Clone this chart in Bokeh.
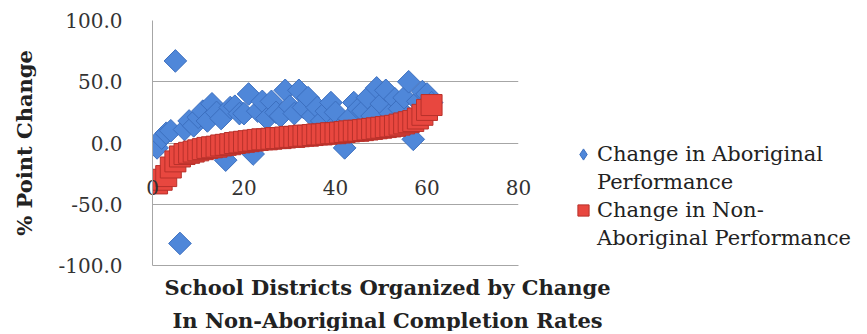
from bokeh.plotting import figure
from bokeh.models import Range1d, NumeralTickFormatter, FixedTicker, Legend, LegendItem, Title
from bokeh.embed import file_html
from bokeh.resources import INLINE
import math

districts = list(range(1, 62))
non_aboriginal = [-33, -30, -27, -20, -15, -11, -9, -8, -7, -6,
                  -5, -4, -3.5, -3, -2, -1.5, -1, 0, 0.5, 1,
                  1.5, 2, 2.5, 3, 3, 3.5, 4, 4, 4.5, 5,
                  5, 5.5, 6, 6, 6.5, 7, 7, 7.5, 8, 8,
                  8.5, 9, 9.5, 10, 10, 10.5, 11, 11.5, 12, 12.5,
                  13, 13.5, 14, 15, 16, 17, 18, 20, 23, 27, 31]
aboriginal = [-4, 4, 8, 10, 67, -82, 11, 18, 14, 21,
              26, 18, 32, 25, 20, -14, 29, 30, 24, 24,
              40, -9, 26, 34, 20, 34, 25, 22, 43, 30,
              24, 43, 29, 37, 22, 29, 18, 26, 33, 25,
              12, -4, 20, 33, 28, 26, 37, 22, 45, 32,
              43, 24, 36, 28, 37, 50, 3, 34, 42, 40, 33]
y_ticks = [-100, -50, 0, 50, 100]
x_ticks = [0, 20, 40, 60, 80]
title_lines = ["School Districts Organized by Change", "In Non-Aboriginal Completion Rates"]
legend_lines = [("Change in Aboriginal", "Performance"),
                ("Change in Non-", "Aboriginal Performance")]

FONT = "DejaVu Serif"
GRID = "#A6A6A6"
BLUE = "#4F87D9"
BLUE_EDGE = "#3C6FBF"
RED = "#E8473F"
RED_EDGE = "#B8312B"

p = figure(frame_width=366, frame_height=245, output_backend="svg", toolbar_location=None,
           x_range=Range1d(0, 80), y_range=Range1d(-100, 100),
           min_border_left=152, min_border_right=0,
           min_border_top=20, min_border_bottom=0)
p.outline_line_color = None
p.background_fill_color = "white"
p.border_fill_color = "white"

blue = p.scatter(districts, aboriginal, marker="square", angle=math.pi / 4, size=16,
                 fill_color=BLUE, line_color=BLUE_EDGE, line_width=1)
red = p.scatter(districts, non_aboriginal, marker="square", size=21,
                fill_color=RED, line_color=RED_EDGE, line_width=1)
# legend-only key (hidden in the plot, drawn in the legend)
blue_key = p.scatter(districts, aboriginal, marker="diamond", fill_color=BLUE,
                     line_color=BLUE_EDGE, visible=False)
blank = p.scatter(districts, aboriginal, marker="square", fill_alpha=0, line_alpha=0,
                  visible=False)

p.xgrid.grid_line_color = None
p.ygrid.ticker = FixedTicker(ticks=y_ticks)
p.ygrid.grid_line_color = GRID

p.yaxis.ticker = FixedTicker(ticks=y_ticks)
p.yaxis.formatter = NumeralTickFormatter(format="0.0")
p.yaxis.major_tick_line_color = None
p.yaxis.minor_tick_line_color = None
p.yaxis.axis_line_color = GRID
p.yaxis.major_label_standoff = 24
p.yaxis.major_label_text_font = FONT
p.yaxis.major_label_text_font_size = "20px"
p.yaxis.major_label_text_color = "#333333"
p.yaxis.axis_label = "% Point Change"
p.yaxis.axis_label_text_font = FONT
p.yaxis.axis_label_text_font_style = "bold"
p.yaxis.axis_label_text_font_size = "21px"
p.yaxis.axis_label_text_color = "#222222"
p.yaxis.axis_label_standoff = 18

p.xaxis.ticker = FixedTicker(ticks=x_ticks)
p.xaxis.major_tick_line_color = None
p.xaxis.minor_tick_line_color = None
p.xaxis.axis_line_color = GRID
p.xaxis.major_label_standoff = -92
p.xaxis.major_label_text_font = FONT
p.xaxis.major_label_text_font_size = "20px"
p.xaxis.major_label_text_color = "#333333"

for line, off, so in zip(title_lines, [12, 20], [14, -2]):
    p.add_layout(Title(text=line, align="left", offset=off, standoff=so,
                       text_font=FONT, text_font_style="bold", text_font_size="21px",
                       text_color="#222222"), "below")

items = [LegendItem(label=legend_lines[0][0], renderers=[blue_key]),
         LegendItem(label=legend_lines[0][1], renderers=[blank]),
         LegendItem(label=legend_lines[1][0], renderers=[red]),
         LegendItem(label=legend_lines[1][1], renderers=[blank])]
legend = Legend(items=items, location=(51, 13), padding=0, margin=0, spacing=0,
                border_line_color=None, background_fill_alpha=0,
                label_text_font=FONT, label_text_font_size="21px",
                label_text_color="#222222",
                glyph_width=28, glyph_height=28, label_standoff=0)
p.add_layout(legend, "right")

open("out.html", "w").write(file_html(p, INLINE))
